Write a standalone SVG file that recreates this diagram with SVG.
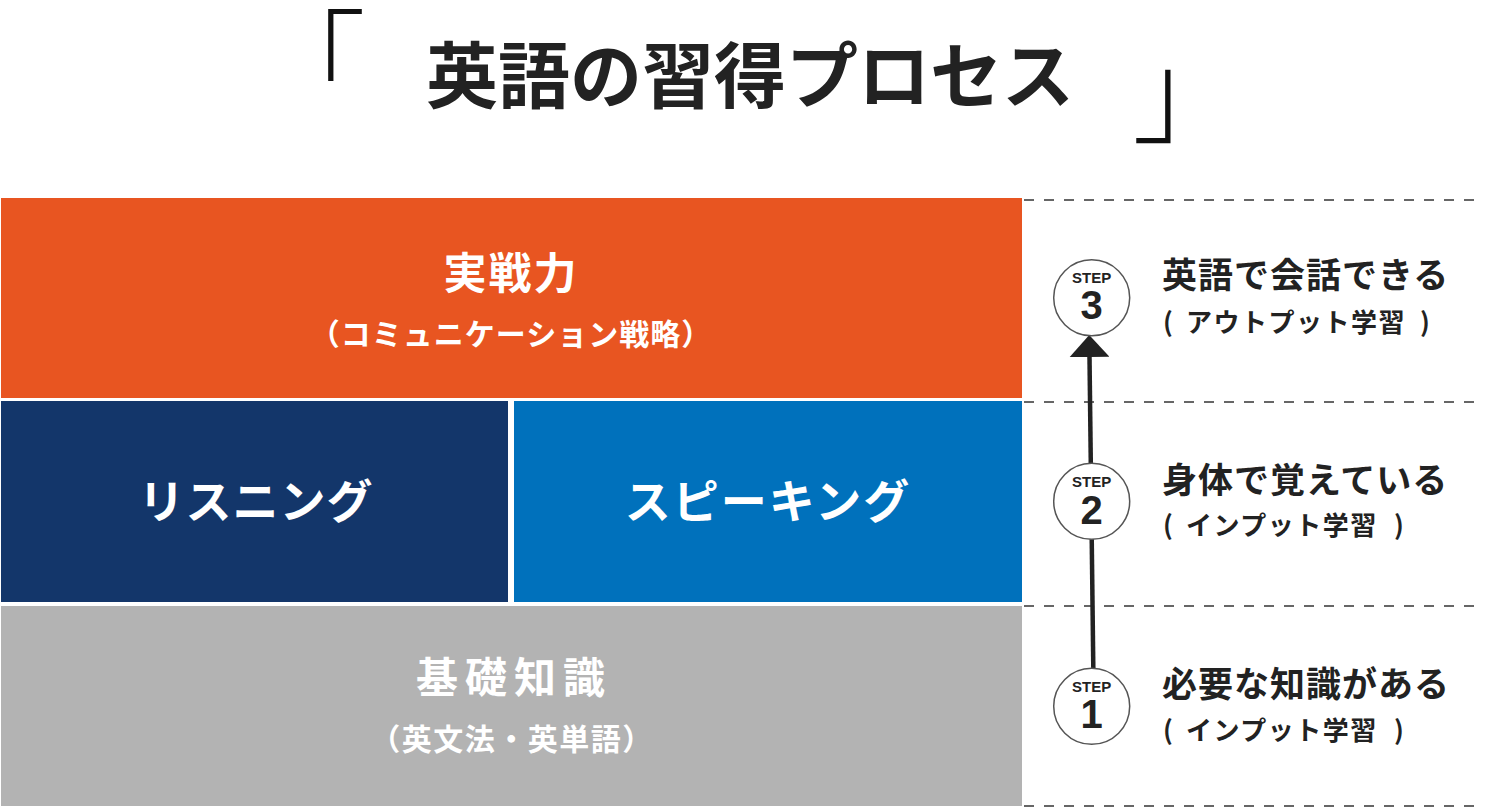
<svg xmlns="http://www.w3.org/2000/svg" width="1500" height="810" viewBox="0 0 1500 810">
<style>
.jp{font-family:"Noto Sans CJK JP","Noto Sans CJK SC",sans-serif;}
.w{fill:#ffffff;font-weight:700;}
.d{fill:#222222;font-weight:700;}
.step{font-family:"Liberation Sans",Arial,sans-serif;fill:#222222;text-anchor:middle;font-weight:700;}
.circ{fill:#ffffff;stroke:#555555;stroke-width:1.5;}
.dash{stroke:#666666;stroke-width:2;stroke-dasharray:10 10;fill:none;}
</style>
<defs>
<marker id="ah" viewBox="0 0 22 40" refX="0" refY="20" markerWidth="22" markerHeight="40" markerUnits="userSpaceOnUse" orient="auto">
<path d="M0,0 L22,20 L0,40 Z" fill="#222222"/>
</marker>
</defs>
<rect width="1500" height="810" fill="#ffffff"/>

<g id="title">
<text class="jp" x="256" y="102" font-size="110" font-weight="300" fill="#111111">「</text>
<text class="jp d" x="426" y="102" font-size="72">英語の習得プロセス</text>
<text class="jp" x="1132" y="134" font-size="112" font-weight="300" fill="#111111">」</text>
</g>

<g id="guides">
<line class="dash" x1="1024" y1="200" x2="1480" y2="200"/>
<line class="dash" x1="1024" y1="402" x2="1480" y2="402"/>
<line class="dash" x1="1024" y1="606" x2="1480" y2="606"/>
<line class="dash" x1="1024" y1="806" x2="1480" y2="806"/>
</g>

<g id="node-jissenryoku">
<rect x="1" y="198" width="1021" height="200" fill="#E85521"/>
<text class="jp w" x="511" y="289" font-size="43" text-anchor="middle" letter-spacing="2">実戦力</text>
<text class="jp w" x="511" y="345" font-size="30" text-anchor="middle" letter-spacing="1">（コミュニケーション戦略）</text>
</g>

<g id="node-listening">
<rect x="1" y="401" width="507" height="201" fill="#13366A"/>
<text class="jp w" x="256" y="518" font-size="46" text-anchor="middle" letter-spacing="1">リスニング</text>
</g>

<g id="node-speaking">
<rect x="514" y="401" width="508" height="201" fill="#0071BC"/>
<text class="jp w" x="768" y="518" font-size="46" text-anchor="middle" letter-spacing="2">スピーキング</text>
</g>

<g id="node-kiso">
<rect x="1" y="606" width="1021" height="200" fill="#B3B3B3"/>
<text class="jp w" x="514" y="693" font-size="42" text-anchor="middle" letter-spacing="7">基礎知識</text>
<text class="jp w" x="512" y="750" font-size="30" text-anchor="middle" letter-spacing="1.5">（英文法・英単語）</text>
</g>

<g id="connectors">
<line x1="1093.3" y1="668" x2="1089.5" y2="357" stroke="#222222" stroke-width="4.5" marker-end="url(#ah)"/>
</g>

<g id="step3">
<circle class="circ" cx="1091.7" cy="297.8" r="38"/>
<text class="step" x="1091.7" y="282.7" font-size="15">STEP</text>
<text class="step" x="1091.7" y="319.3" font-size="40">3</text>
<text class="jp d" x="1162" y="288" font-size="35" letter-spacing="1">英語で会話できる</text>
<text class="jp d" font-size="26" y="332"><tspan x="1163">(</tspan><tspan x="1186" letter-spacing="1.5">アウトプット学習</tspan><tspan x="1420">)</tspan></text>
</g>

<g id="step2">
<circle class="circ" cx="1091.7" cy="501.3" r="38"/>
<text class="step" x="1091.7" y="486.7" font-size="15">STEP</text>
<text class="step" x="1091.7" y="524.3" font-size="40">2</text>
<text class="jp d" x="1162" y="493" font-size="35" letter-spacing="1">身体で覚えている</text>
<text class="jp d" font-size="26" y="535"><tspan x="1163">(</tspan><tspan x="1186" letter-spacing="1.5">インプット学習</tspan><tspan x="1394">)</tspan></text>
</g>

<g id="step1">
<circle class="circ" cx="1091.7" cy="706.3" r="38"/>
<text class="step" x="1091.7" y="691.7" font-size="15">STEP</text>
<text class="step" x="1091.7" y="728.3" font-size="40">1</text>
<text class="jp d" x="1162" y="697" font-size="35" letter-spacing="1">必要な知識がある</text>
<text class="jp d" font-size="26" y="740"><tspan x="1163">(</tspan><tspan x="1186" letter-spacing="1.5">インプット学習</tspan><tspan x="1394">)</tspan></text>
</g>
</svg>
